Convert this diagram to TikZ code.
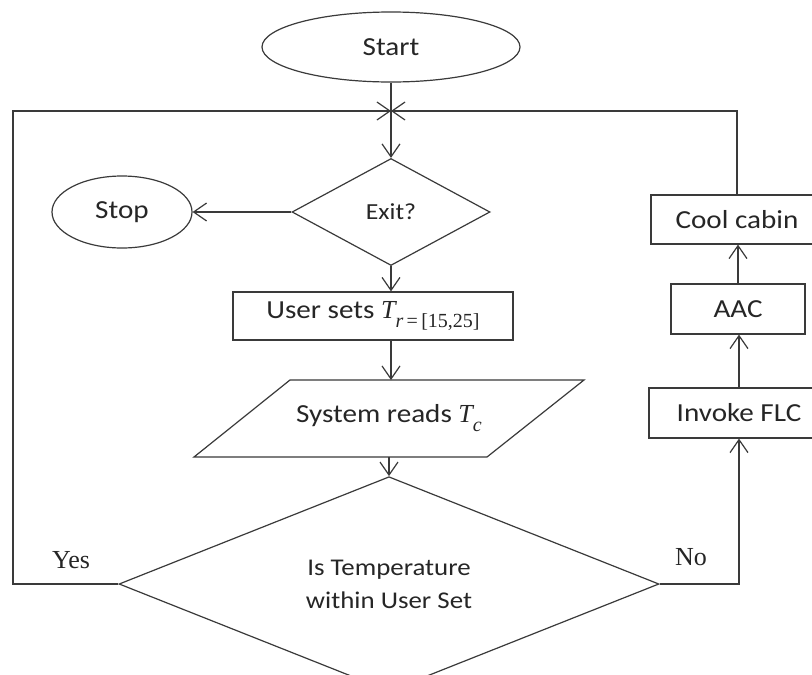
\documentclass[tikz,border=0pt]{standalone}
\usepackage{fontspec}
\setmainfont{Carlito}[FakeStretch=1.12]
\newfontfamily\serifyn{Liberation Serif}
\usetikzlibrary{shapes.geometric,arrows.meta}
\definecolor{lncol}{HTML}{3A3A3A}
\newcommand{\vT}{{\serifyn\itshape T}}
\newcommand{\vsub}[1]{\raisebox{-0.32em}{\fontsize{20}{22}\selectfont\serifyn #1}}
\begin{document}
\begin{tikzpicture}[x=1pt,y=-1pt,
  base/.style={draw=lncol, line width=1.2pt, text=black!85, font=\fontsize{26}{30}\selectfont, inner sep=0pt},
  term/.style={base, ellipse},
  proc/.style={base, rectangle},
  deci/.style={base, diamond},
  conn/.style={draw=lncol, line width=1.2pt},
  arr/.style={conn, -{Straight Barb[length=13pt,width=18pt]}},
  lbl/.style={font=\serifyn\fontsize{26}{30}\selectfont, inner sep=0pt, text=black!85}]
\useasboundingbox (0,0) rectangle (812,675);
\fill[white] (0,0) rectangle (812,675);
\clip (0,0) rectangle (812,675);

\node[term, minimum width=258pt, minimum height=70pt] (start) at (391,47) {Start};
\coordinate (j) at (391,111);
\node[deci, minimum width=198pt, minimum height=107pt, font=\fontsize{23}{26}\selectfont] (exit) at (391,212) {Exit?};
\node[term, minimum width=140pt, minimum height=72pt] (stop) at (122,212) {Stop};
\node[proc, minimum width=280pt, minimum height=48pt] (user) at (373,316) {User sets \vT\vsub{\textit{r}\,=\,[15,25]}};

\coordinate (ptl) at (290,380);
\coordinate (ptr) at (584,380);
\coordinate (pbr) at (487,457);
\coordinate (pbl) at (194,457);
\coordinate (pt) at (391,380);
\coordinate (pb) at (389,457);
\draw[conn] (ptl) -- (ptr) -- (pbr) -- (pbl) -- cycle;
\node[font=\fontsize{26}{30}\selectfont, text=black!85] (read) at (389,418) {System reads \vT\vsub{\textit{c}}};

\node[deci, minimum width=540pt, minimum height=184pt, align=center, font=\fontsize{24}{33}\selectfont] (cond) at (389,584) {Is Temperature\\within User Set};

\node[lbl, anchor=base west] (yes) at (52,568) {Yes};
\node[lbl, anchor=base west] (no) at (675,565) {No};

\node[proc, minimum width=180pt, minimum height=50pt] (inv) at (739,413) {Invoke FLC};
\node[proc, minimum width=134pt, minimum height=50pt] (aac) at (738,309) {AAC};
\node[proc, minimum width=172pt, minimum height=49pt] (cool) at (737,219.5) {Cool cabin};

\coordinate (lc) at (13,111);

\draw[conn] (start.south) -- (j);
\draw[arr] (j) -- (exit.north);
\draw[arr] (exit.west) -- (stop.east);
\draw[arr] (exit.south) -- (exit.south |- user.north);
\draw[arr] (exit.south |- user.south) -- (pt);
\draw[arr] (pb) -- (cond.north);
\draw[arr] (cond.west) -| (lc) -- (j);
\draw[arr] (cond.east) -| (inv.south);
\draw[arr] (inv.north) -- (inv.north |- aac.south);
\draw[arr] (aac.north) -- (aac.north |- cool.south);
\draw[arr] (cool.north) |- (j);
\end{tikzpicture}
\end{document}
